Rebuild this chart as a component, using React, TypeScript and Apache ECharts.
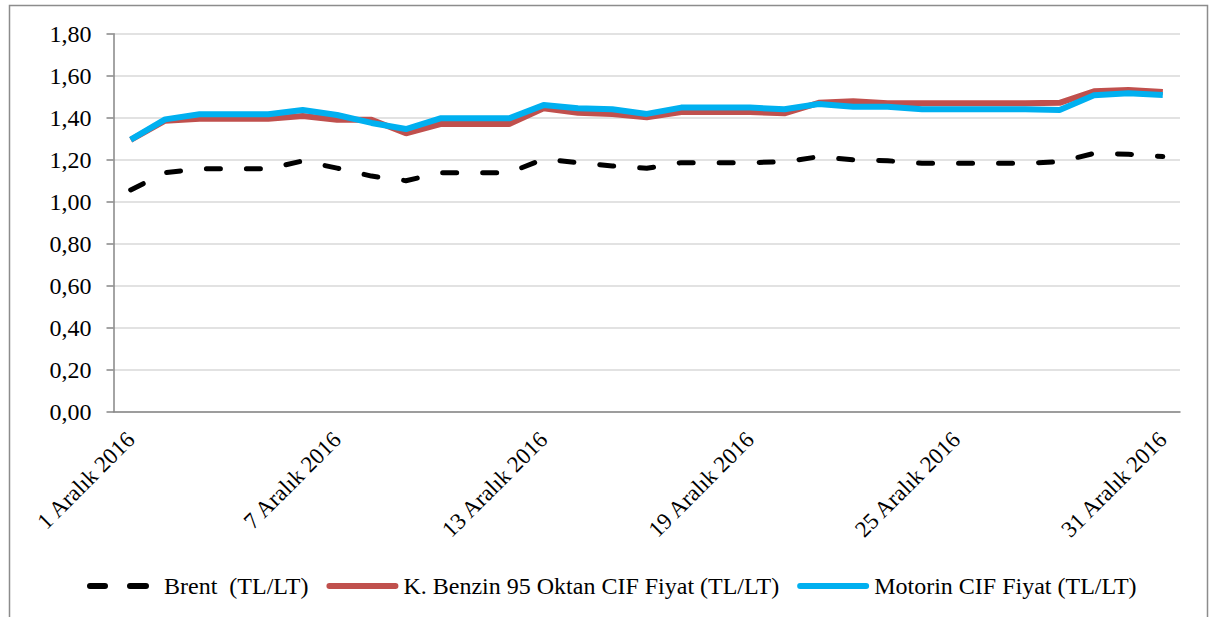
import React, { useEffect, useRef } from "react";
import * as echarts from "echarts";

const days: string[] = [
  "1 Aralık 2016", "2 Aralık 2016", "3 Aralık 2016", "4 Aralık 2016", "5 Aralık 2016",
  "6 Aralık 2016", "7 Aralık 2016", "8 Aralık 2016", "9 Aralık 2016", "10 Aralık 2016",
  "11 Aralık 2016", "12 Aralık 2016", "13 Aralık 2016", "14 Aralık 2016", "15 Aralık 2016",
  "16 Aralık 2016", "17 Aralık 2016", "18 Aralık 2016", "19 Aralık 2016", "20 Aralık 2016",
  "21 Aralık 2016", "22 Aralık 2016", "23 Aralık 2016", "24 Aralık 2016", "25 Aralık 2016",
  "26 Aralık 2016", "27 Aralık 2016", "28 Aralık 2016", "29 Aralık 2016", "30 Aralık 2016",
  "31 Aralık 2016",
];

const brent: number[] = [
  1.056, 1.138, 1.157, 1.157, 1.157, 1.194, 1.16, 1.122, 1.1, 1.138,
  1.138, 1.138, 1.203, 1.186, 1.17, 1.159, 1.186, 1.186, 1.186, 1.19,
  1.214, 1.199, 1.195, 1.183, 1.183, 1.183, 1.183, 1.19, 1.23, 1.226,
  1.215,
];

const benzin: number[] = [
  1.294, 1.386, 1.395, 1.395, 1.395, 1.408, 1.39, 1.39, 1.326, 1.37,
  1.37, 1.37, 1.445, 1.424, 1.418, 1.402, 1.427, 1.427, 1.427, 1.421,
  1.471, 1.478, 1.469, 1.469, 1.469, 1.469, 1.469, 1.471, 1.526, 1.532,
  1.522,
];

const motorin: number[] = [
  1.296, 1.392, 1.416, 1.416, 1.416, 1.437, 1.413, 1.375, 1.346, 1.397,
  1.397, 1.397, 1.46, 1.445, 1.44, 1.418, 1.448, 1.448, 1.448, 1.44,
  1.465, 1.452, 1.452, 1.44, 1.44, 1.44, 1.44, 1.437, 1.507, 1.516,
  1.508,
];

const seriesNames: string[] = [
  "Brent  (TL/LT)",
  "K. Benzin 95 Oktan CIF Fiyat (TL/LT)",
  "Motorin CIF Fiyat (TL/LT)",
];

const FONT = "Liberation Serif";

const dashIcon =
  "path://M0,3 M3,0h15a3,3 0 0 1 0,6h-15a3,3 0 0 1 0,-6z M43,0h16a3,3 0 0 1 0,6h-16a3,3 0 0 1 0,-6z M72,3";
const solidIcon = "path://M3,0h66a3,3 0 0 1 0,6h-66a3,3 0 0 1 0,-6z";

export default function App() {
  const ref = useRef<HTMLDivElement>(null);

  useEffect(() => {
    if (!ref.current) return;
    const chart = echarts.init(ref.current, undefined, { renderer: "svg" });
    chart.setOption({
      animation: false,
      backgroundColor: "#ffffff",
      textStyle: { fontFamily: FONT },
      graphic: [
        {
          type: "rect",
          shape: { x: 9.5, y: 5.5, width: 1198, height: 700 },
          style: { fill: "none", stroke: "#8c8c8c", lineWidth: 1.5 },
          silent: true,
        },
      ],
      grid: { left: 113.5, right: 30, top: 33.7, bottom: 205.3, containLabel: false },
      legend: {
        left: 87,
        top: 573,
        padding: 0,
        itemWidth: 72,
        itemHeight: 6,
        itemGap: 18,
        textStyle: { fontFamily: FONT, fontSize: 24, color: "#000", lineHeight: 26 },
        data: [
          { name: seriesNames[0], icon: dashIcon, itemStyle: { color: "#000000" } },
          { name: seriesNames[1], icon: solidIcon, itemStyle: { color: "#c0504d" } },
          { name: seriesNames[2], icon: solidIcon, itemStyle: { color: "#00b0f0" } },
        ],
      },
      xAxis: {
        type: "category",
        data: days,
        boundaryGap: true,
        axisLine: { lineStyle: { color: "#868686", width: 1.5 } },
        axisTick: { interval: 5, length: 6, lineStyle: { color: "#868686", width: 1.5 } },
        axisLabel: {
          interval: 5,
          rotate: 45,
          margin: 24,
          fontSize: 23,
          color: "#000000",
          fontFamily: FONT,
        },
        splitLine: { show: false },
      },
      yAxis: {
        type: "value",
        min: 0,
        max: 1.8,
        interval: 0.2,
        axisLine: { show: true, lineStyle: { color: "#868686", width: 1.5 } },
        axisTick: { show: true, length: 7, lineStyle: { color: "#868686", width: 1.5 } },
        axisLabel: {
          margin: 22,
          fontSize: 24,
          color: "#000000",
          fontFamily: FONT,
          formatter: (v: number) => v.toFixed(2).replace(".", ","),
        },
        splitLine: { lineStyle: { color: "#d9d9d9", width: 1.5 } },
      },
      series: [
        {
          name: seriesNames[0],
          type: "line",
          data: brent,
          symbol: "none",
          lineStyle: { color: "#000000", width: 5, type: [14, 26], cap: "round" },
          itemStyle: { color: "#000000" },
          z: 2,
        },
        {
          name: seriesNames[1],
          type: "line",
          data: benzin,
          symbol: "none",
          lineStyle: { color: "#c0504d", width: 6 },
          itemStyle: { color: "#c0504d" },
          z: 3,
        },
        {
          name: seriesNames[2],
          type: "line",
          data: motorin,
          symbol: "none",
          lineStyle: { color: "#00b0f0", width: 6 },
          itemStyle: { color: "#00b0f0" },
          z: 4,
        },
      ],
    });
    return () => chart.dispose();
  }, []);

  return (
    <div
      ref={ref}
      style={{ position: "fixed", left: 0, top: 0, width: 1210, height: 617, background: "#fff" }}
    />
  );
}
